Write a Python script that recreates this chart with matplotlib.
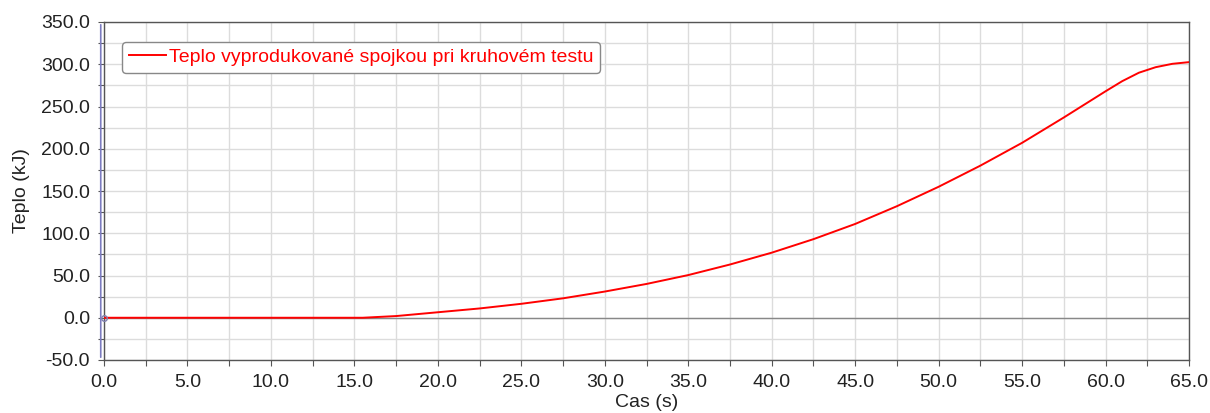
import numpy as np
import matplotlib.pyplot as plt
from matplotlib.ticker import MultipleLocator, FormatStrFormatter

plt.rcParams['font.family'] = ['Liberation Sans', 'DejaVu Sans']

# heat produced by the clutch during the circuit test
cas = [0.0, 5.0, 10.0, 15.0, 15.5, 17.5, 20.0, 22.5, 25.0, 27.5, 30.0, 32.5, 35.0,
       37.5, 40.0, 42.5, 45.0, 47.5, 50.0, 52.5, 55.0, 57.5, 60.0, 61.0, 62.0,
       63.0, 64.0, 65.0]
teplo = [0.0, 0.0, 0.0, 0.0, 0.0, 2.0, 6.5, 11.0, 16.5, 23.0, 31.0, 40.0, 50.5,
         63.0, 77.0, 93.0, 111.0, 132.0, 155.0, 180.0, 207.0, 237.0, 268.0, 280.0, 290.0,
         296.5, 300.5, 302.5]

fs = 14

fig = plt.figure(figsize=(12.1, 4.13), dpi=100)
ax = fig.add_axes([104 / 1210, 53 / 413, 1085 / 1210, 338 / 413])

ax.plot(cas, teplo, color='#ff0000', lw=1.4,
        label='Teplo vyprodukované spojkou pri kruhovém testu', zorder=3)
ax.axhline(0, color='#888888', lw=1.0, zorder=2)
ax.plot([0], [0], marker='o', ms=4, mfc='none', mec='#8080b0', clip_on=False, zorder=4)

ax.set_xlim(0, 65)
ax.set_ylim(-50, 350)
ax.xaxis.set_major_locator(MultipleLocator(5))
ax.xaxis.set_minor_locator(MultipleLocator(2.5))
ax.yaxis.set_major_locator(MultipleLocator(50))
ax.yaxis.set_minor_locator(MultipleLocator(25))
ax.xaxis.set_major_formatter(FormatStrFormatter('%.1f'))
ax.yaxis.set_major_formatter(FormatStrFormatter('%.1f'))

ax.grid(which='both', color='#dcdcdc', lw=1.0, zorder=0)
ax.set_axisbelow(True)
ax.tick_params(which='both', direction='out', length=4, width=0.8, color='#555555',
               labelsize=fs, labelcolor='#222222')
ax.tick_params(axis='y', pad=6)
ax.tick_params(axis='x', pad=6)

for s in ax.spines.values():
    s.set_color('#555555')
    s.set_linewidth(1.0)

# bluish axis line at the left edge
ax.annotate('', xy=(-0.003, 0), xytext=(-0.003, 1), xycoords='axes fraction',
            arrowprops=dict(arrowstyle='-', color='#7c7cc0', lw=1.2))

ax.set_xlabel('Cas (s)', fontsize=fs, color='#222222', labelpad=2)
ax.set_ylabel('Teplo (kJ)', fontsize=fs, color='#222222', labelpad=8)

leg = ax.legend(loc='upper left', bbox_to_anchor=(0.008, 0.97), fontsize=fs,
                handlelength=1.9, handletextpad=0.15, borderpad=0.35,
                fancybox=True, framealpha=1, edgecolor='#888888')
for t in leg.get_texts():
    t.set_color('#ff0000')

fig.savefig('out.png', dpi=100)
